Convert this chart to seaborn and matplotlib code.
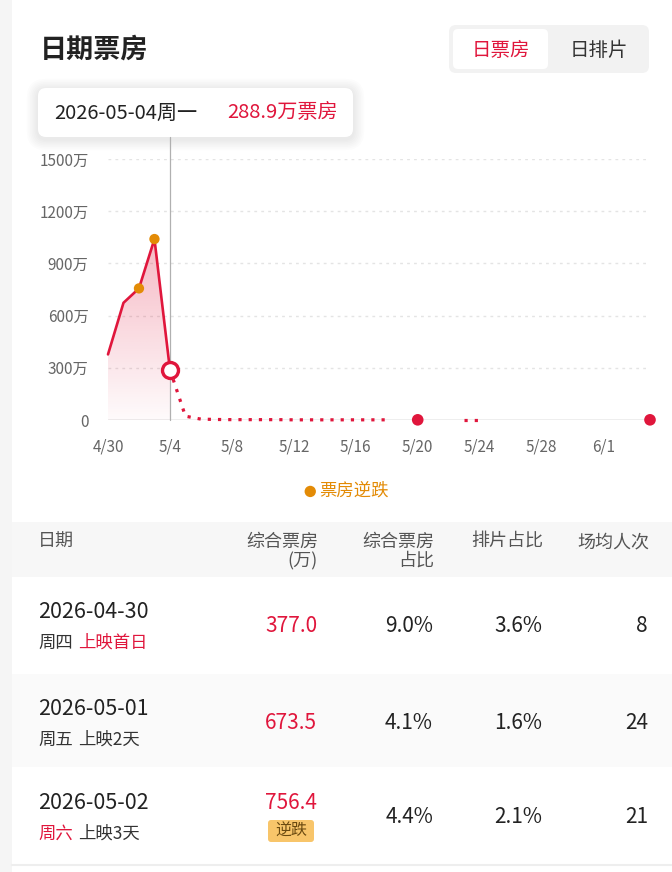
import numpy as np
import pandas as pd
import seaborn as sns
import matplotlib.pyplot as plt
from matplotlib.patches import FancyBboxPatch, Rectangle
from matplotlib.ticker import FuncFormatter

# --- data ---
start_date = "2026-04-30"
solid_dates = ["2026-04-30", "2026-05-01", "2026-05-02", "2026-05-03", "2026-05-04"]
solid_values = [377.0, 673.5, 756.4, 1040.0, 288.9]
reversal_dates = ["2026-05-02", "2026-05-03"]
reversal_values = [756.4, 1040.0]
trend_dates = ["2026-05-04", "2026-05-05", "2026-05-06", "2026-05-07", "2026-05-08",
               "2026-05-09", "2026-05-10", "2026-05-11", "2026-05-12", "2026-05-13",
               "2026-05-14", "2026-05-15", "2026-05-16", "2026-05-17", "2026-05-18"]
trend_values = [288.9, 22, 5, 3, 2, 2, 2, 2, 1, 1, 1, 1, 1, 1, 1]
trend2_dates = ["2026-05-23", "2026-05-24"]
trend2_values = [1, 1]
point_dates = ["2026-05-20", "2026-06-04"]
point_values = [1, 1]
y_ticks = [0, 300, 600, 900, 1200, 1500]
x_tick_dates = ["2026-04-30", "2026-05-04", "2026-05-08", "2026-05-12", "2026-05-16",
                "2026-05-20", "2026-05-24", "2026-05-28", "2026-06-01"]
x_tick_labels = ["4/30", "5/4", "5/8", "5/12", "5/16", "5/20", "5/24", "5/28", "6/1"]
sel_date, sel_weekday, sel_value = "2026-05-04", "周一", 288.9

table_dates = ["2026-04-30", "2026-05-01", "2026-05-02"]
table_weekdays = ["周四", "周五", "周六"]
table_days = ["上映首日", "上映2天", "上映3天"]
table_box = [377.0, 673.5, 756.4]
table_box_share = [9.0, 4.1, 4.4]
table_show_share = [3.6, 1.6, 2.1]
table_avg = [8, 24, 21]
table_reversal = [False, False, True]

RED = "#e0163c"
ORANGE = "#e38b06"
DARK = "#222222"
GRAY = "#666666"


def day(d):
    return (pd.to_datetime(d) - pd.to_datetime(start_date)).days


sns.set_theme(style="white")
plt.rcParams['font.family'] = ['Noto Sans CJK SC', 'DejaVu Sans']

W, H = 672, 872
fig = plt.figure(figsize=(W / 100, H / 100), dpi=100)
fig.patch.set_facecolor("#f5f5f5")

# background canvas in pixel coords (y down)
bg = fig.add_axes([0, 0, 1, 1], zorder=0)
bg.set_xlim(0, W)
bg.set_ylim(H, 0)
bg.axis("off")
bg.add_patch(Rectangle((12, 0), W - 12, H, fc="white", ec="none"))


def rbox(x, y, w, h, r, fc, shadow=False):
    if shadow:
        for i in range(7, 0, -1):
            p = i * 1.6
            bg.add_patch(FancyBboxPatch((x - p, y - p + 2), w + 2 * p, h + 2 * p,
                                        boxstyle=f"round,pad=0,rounding_size={r + p}",
                                        fc="black", ec="none", alpha=0.010))
    bg.add_patch(FancyBboxPatch((x, y), w, h, boxstyle=f"round,pad=0,rounding_size={r}",
                                fc=fc, ec="none"))


# header
bg.text(40, 50, "日期票房", fontsize=19.5, fontweight="bold", color=DARK, va="center")
rbox(449, 25, 200, 48, 7, "#f2f2f2")
rbox(453, 29, 95, 40, 5, "white")
bg.text(501, 50, "日票房", fontsize=14, color=RED, ha="center", va="center")
bg.text(599, 50, "日排片", fontsize=14, color="#333333", ha="center", va="center")

# tooltip
rbox(38, 88, 315, 49, 8, "white", shadow=True)
bg.text(54, 113, f"{sel_date}{sel_weekday}", fontsize=14.5, color=DARK, va="center")
bg.text(227, 113, f"{sel_value:.1f}万票房", fontsize=14.5, color=RED, va="center")

# chart axes
ax = fig.add_axes([108 / W, (H - 420) / H, (650 - 108) / W, (420 - 159) / H], zorder=2)
ax.set_facecolor("none")
for s in ax.spines.values():
    s.set_visible(False)
for v in y_ticks[1:]:
    ax.axhline(v, color="#e4e4e4", lw=1, ls=(0, (2, 3)), zorder=0)
ax.axhline(0, color="#ececec", lw=2, zorder=0)

solid = pd.DataFrame({"x": [day(d) for d in solid_dates], "y": solid_values})
trend = pd.DataFrame({"x": [day(d) for d in trend_dates], "y": trend_values})
trend2 = pd.DataFrame({"x": [day(d) for d in trend2_dates], "y": trend2_values})
rev = pd.DataFrame({"x": [day(d) for d in reversal_dates], "y": reversal_values})
pts = pd.DataFrame({"x": [day(d) for d in point_dates], "y": point_values})

# gradient fill under the actual line
poly = ax.fill_between(solid["x"], solid["y"], 0, color="none", lw=0)
grad = np.zeros((100, 1, 4))
grad[:, :, :3] = plt.matplotlib.colors.to_rgb(RED)
grad[:, 0, 3] = np.linspace(0.30, 0.02, 100)
img = ax.imshow(grad, extent=[solid["x"].min(), solid["x"].max(), 0, max(solid_values)],
                aspect="auto", origin="upper", zorder=1)
img.set_clip_path(poly.get_paths()[0], transform=ax.transData)

sel_x = day(sel_date)
ax.axvline(sel_x, ymin=0, ymax=(420 - 137) / (420 - 159), color="#b0b0b0", lw=0.9,
           clip_on=False, zorder=2)

line_kw = dict(ax=ax, color=RED, zorder=3, clip_on=False)
sns.lineplot(data=solid, x="x", y="y", lw=1.9, **line_kw)
sns.lineplot(data=trend, x="x", y="y", lw=2.3, ls=(0, (1, 2.2)), **line_kw)
sns.lineplot(data=trend2, x="x", y="y", lw=2.3, ls=(0, (1, 2.2)), **line_kw)
sns.scatterplot(data=rev, x="x", y="y", ax=ax, color=ORANGE, s=55, edgecolor="none",
                zorder=4, clip_on=False, label="票房逆跌")
sns.scatterplot(data=pts, x="x", y="y", ax=ax, color=RED, s=70, edgecolor="none",
                zorder=4, clip_on=False)
ax.plot([sel_x], [sel_value], marker="o", ms=11.5, mfc="white", mec=RED, mew=2.4,
        zorder=5, clip_on=False)

ax.set_xlim(0, 35)
ax.set_ylim(0, 1500)
ax.set_yticks(y_ticks)
ax.yaxis.set_major_formatter(FuncFormatter(lambda v, p: "0" if v == 0 else f"{int(v)}万"))
ax.set_xticks([day(d) for d in x_tick_dates])
ax.set_xticklabels(x_tick_labels)
ax.tick_params(axis="both", length=0, labelsize=11, colors=GRAY)
ax.tick_params(axis="y", pad=14)
ax.tick_params(axis="x", pad=13)
ax.set_xlabel("")
ax.set_ylabel("")

h, l = ax.get_legend_handles_labels()
keep = [(hh, ll) for hh, ll in zip(h, l) if ll == "票房逆跌"]
ax.legend([k[0] for k in keep], [k[1] for k in keep], loc="center",
          bbox_to_anchor=(345 / W, 1 - 491 / H), bbox_transform=fig.transFigure,
          frameon=False, fontsize=12.5, labelcolor=ORANGE, handletextpad=0.0,
          handlelength=1.0, markerscale=1.1)

# table
bg.add_patch(Rectangle((12, 522), W - 12, 55, fc="#f7f7f7", ec="none"))
bg.add_patch(Rectangle((12, 674), W - 12, 93, fc="#fafafa", ec="none"))
bg.plot([12, W], [865, 865], color="#eeeeee", lw=1.5)

hc = "#555555"
bg.text(38, 542, "日期", fontsize=13, color=hc, va="center")
bg.text(318, 542, "综合票房", fontsize=13, color=hc, va="center", ha="right")
bg.text(318, 561, "(万)", fontsize=13, color=hc, va="center", ha="right")
bg.text(434, 542, "综合票房", fontsize=13, color=hc, va="center", ha="right")
bg.text(434, 561, "占比", fontsize=13, color=hc, va="center", ha="right")
bg.text(543, 542, "排片占比", fontsize=13, color=hc, va="center", ha="right")
bg.text(649, 542, "场均人次", fontsize=13, color=hc, va="center", ha="right")

row_top = [577, 674, 768]
for i in range(3):
    top = row_top[i]
    bg.text(38, top + 35, table_dates[i], fontsize=15.5, color=DARK, va="center")
    wk_color = RED if table_weekdays[i] in ("周六", "周日") else "#333333"
    day_color = RED if table_days[i] == "上映首日" else "#333333"
    bg.text(38, top + 66, table_weekdays[i], fontsize=12.5, color=wk_color, va="center")
    bg.text(78, top + 66, table_days[i], fontsize=12.5, color=day_color, va="center")
    mid = top + 49
    if table_reversal[i]:
        bg.text(317, top + 35, f"{table_box[i]:.1f}", fontsize=15, color=RED,
                va="center", ha="right")
        rbox(268, top + 52, 46, 22, 3, "#f8c56a")
        bg.text(291, top + 63, "逆跌", fontsize=11.5, color="#6b4a10", ha="center", va="center")
    else:
        bg.text(317, mid, f"{table_box[i]:.1f}", fontsize=15, color=RED, va="center", ha="right")
    bg.text(433, mid, f"{table_box_share[i]:.1f}%", fontsize=15, color=DARK, va="center", ha="right")
    bg.text(542, mid, f"{table_show_share[i]:.1f}%", fontsize=15, color=DARK, va="center", ha="right")
    bg.text(648, mid, f"{table_avg[i]}", fontsize=15, color=DARK, va="center", ha="right")

fig.savefig("out.png", dpi=100, facecolor=fig.get_facecolor())
